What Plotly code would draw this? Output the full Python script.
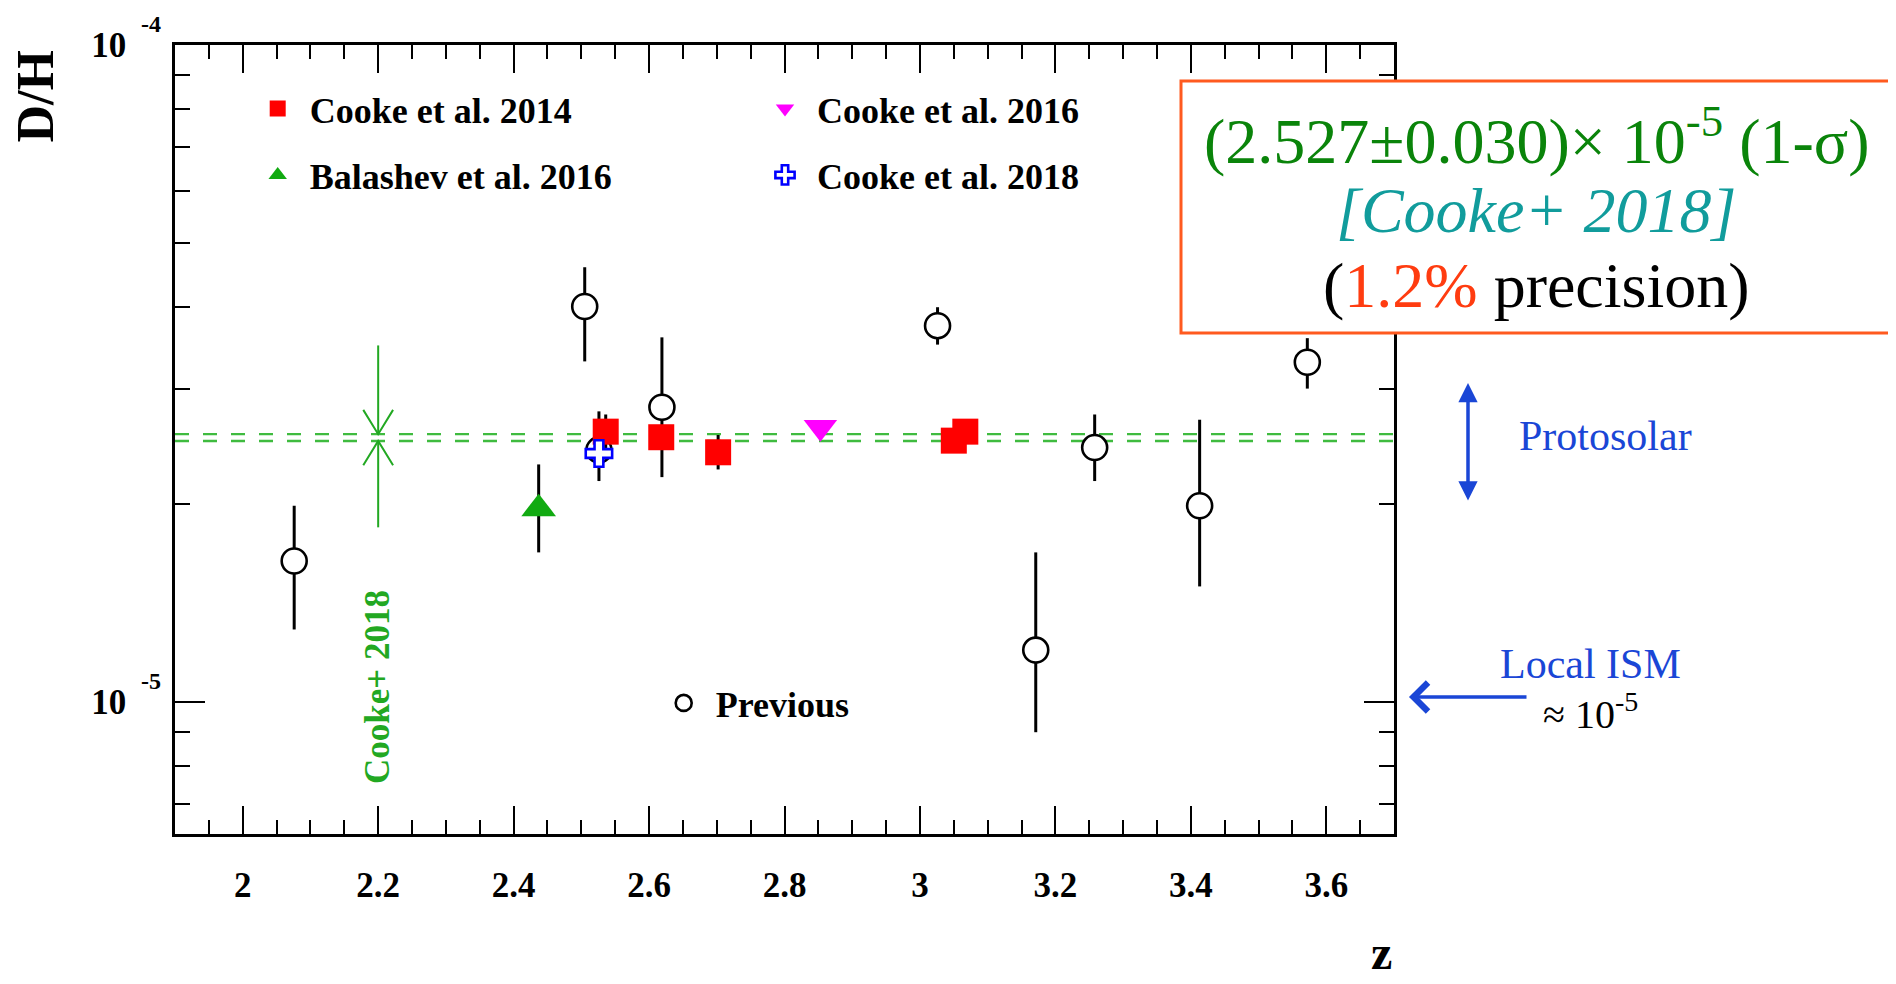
import numpy as np
import plotly.graph_objects as go

SCALE = 1e-5  # D/H values below are in units of 1e-5

# ---- data -------------------------------------------------------------
prev_z = [2.076, 2.505, 2.526, 2.619, 3.026, 3.171, 3.258, 3.413, 3.572]
prev_dh = [1.64, 4.00, 2.42, 2.81, 3.74, 1.20, 2.44, 1.99, 3.29]
prev_err_up = [0.35, 0.59, 0.35, 0.78, 0.25, 0.49, 0.30, 0.70, 0.29]
prev_err_dn = [0.35, 0.70, 0.25, 0.61, 0.24, 0.30, 0.27, 0.49, 0.29]

cooke14_z = [2.536, 2.618, 2.702, 3.050, 3.067]
cooke14_dh = [2.58, 2.53, 2.40, 2.50, 2.58]
cooke14_err_up = [0.16, 0.11, 0.15, 0.05, 0.07]
cooke14_err_dn = [0.15, 0.10, 0.14, 0.05, 0.07]

balashev16_z = [2.437]
balashev16_dh = [1.97]
balashev16_err_up = [0.33]
balashev16_err_dn = [0.28]

cooke16_z = [2.853]
cooke16_dh = [2.62]
cooke16_err = [0.06]

cooke18_z = [2.526]
cooke18_dh = [2.39]
cooke18_err = [0.08]

combined_dh = 2.527
combined_err = 0.030
combined_z = 2.2
combined_arrow_top = 3.49
combined_arrow_bottom = 1.845

x_range = [1.9, 3.7]
y_range = [6.3e-6, 1e-4]
x_ticks = [2.0, 2.2, 2.4, 2.6, 2.8, 3.0, 3.2, 3.4, 3.6]
x_ticklabels = ["2", "2.2", "2.4", "2.6", "2.8", "3", "3.2", "3.4", "3.6"]
y_ticks = [1e-5, 1e-4]
y_tick_mantissa = ["10", "10"]
y_tick_exponent = ["-5", "-4"]
y_minor = [7e-6, 8e-6, 9e-6] + [k * 1e-5 for k in range(2, 10)]

legend_names = ["Cooke et al. 2014", "Balashev et al. 2016", "Cooke et al. 2016",
                "Cooke et al. 2018", "Previous"]


def sc(v):
    return [a * SCALE for a in v]


SERIF = "Liberation Serif"
BLACK = "black"
GREEN_LINE = "#3fbb3f"
GREEN_TXT = "#22a822"
GAP = "\u2004"

fig = go.Figure()

# combined value band: two dashed lines
for v in (combined_dh + combined_err, combined_dh - combined_err):
    fig.add_trace(go.Scatter(x=x_range, y=[v * SCALE] * 2, mode="lines",
                             line=dict(color=GREEN_LINE, width=2.3, dash="14px,14px"),
                             showlegend=False, hoverinfo="skip"))

# arrows pointing to the band at z = 2.2
hi = (combined_dh + combined_err) * SCALE
lo = (combined_dh - combined_err) * SCALE
dz, ddex = 0.022, 0.037
ax_x = [combined_z, combined_z, None,
        combined_z - dz, combined_z, combined_z + dz, None,
        combined_z, combined_z, None,
        combined_z - dz, combined_z, combined_z + dz]
ax_y = [combined_arrow_top * SCALE, hi, None,
        hi * 10 ** ddex, hi, hi * 10 ** ddex, None,
        combined_arrow_bottom * SCALE, lo, None,
        lo * 10 ** -ddex, lo, lo * 10 ** -ddex]
fig.add_trace(go.Scatter(x=ax_x, y=ax_y, mode="lines",
                         line=dict(color=GREEN_TXT, width=2),
                         showlegend=False, hoverinfo="skip"))

ERR = dict(type="data", symmetric=False, color=BLACK, thickness=3, width=0)

fig.add_trace(go.Scatter(
    x=prev_z, y=sc(prev_dh), mode="markers", name=GAP + legend_names[4], legend="legend5",
    marker=dict(symbol="circle", size=25, color="white", line=dict(color=BLACK, width=2.6)),
    error_y=dict(ERR, array=sc(prev_err_up), arrayminus=sc(prev_err_dn))))

fig.add_trace(go.Scatter(
    x=cooke14_z, y=sc(cooke14_dh), mode="markers", name=GAP + legend_names[0], legend="legend",
    marker=dict(symbol="square", size=26, color="#ff0000", line=dict(width=0)),
    error_y=dict(ERR, array=sc(cooke14_err_up), arrayminus=sc(cooke14_err_dn))))

fig.add_trace(go.Scatter(
    x=balashev16_z, y=sc(balashev16_dh), mode="markers", name=GAP + legend_names[1],
    legend="legend2",
    marker=dict(symbol="triangle-up", size=30, color="#11aa11", line=dict(width=0)),
    error_y=dict(ERR, array=sc(balashev16_err_up), arrayminus=sc(balashev16_err_dn))))

fig.add_trace(go.Scatter(
    x=cooke16_z, y=sc(cooke16_dh), mode="markers", name=GAP + legend_names[2], legend="legend3",
    marker=dict(symbol="triangle-down", size=29, color="#ff00ff", line=dict(width=0)),
    error_y=dict(ERR, array=sc(cooke16_err), arrayminus=sc(cooke16_err))))

fig.add_trace(go.Scatter(
    x=cooke18_z, y=sc(cooke18_dh), mode="markers", name=GAP + legend_names[3], legend="legend4",
    marker=dict(symbol="cross", size=22, color="white", line=dict(color="#0000ff", width=2.6)),
    error_y=dict(ERR, array=sc(cooke18_err), arrayminus=sc(cooke18_err))))

# ---- layout -----------------------------------------------------------
# plot area on screen: x 175..1394, y 45..834 (page has an 8px body margin)
W, H = 1896, 984
ML, MT = 167, 37
PW, PH = 1219, 789
MR, MB = W - ML - PW, H - MT - PH
SX0, SY1 = 175, 834


def px_x(X):
    return (X - SX0) / PW


def px_y(Y):
    return (SY1 - Y) / PH


TICKFONT = dict(family=SERIF, size=35, color=BLACK, weight="bold")
LEGFONT = dict(family=SERIF, size=36, color=BLACK, weight="bold")


def leg(xpx, ypx):
    return dict(x=px_x(xpx), y=px_y(ypx), xanchor="left", yanchor="middle",
                font=LEGFONT, bgcolor="rgba(0,0,0,0)", borderwidth=0,
                itemsizing="trace")


fig.update_layout(
    width=W, height=H,
    margin=dict(l=ML, r=MR, t=MT, b=MB, autoexpand=False),
    plot_bgcolor="white", paper_bgcolor="white",
    legend=leg(257.7, 108.7),
    legend2=leg(257.7, 175),
    legend3=leg(765, 108.7),
    legend4=leg(765, 175),
    legend5=leg(663.7, 703),
)

fig.update_xaxes(
    range=x_range, showgrid=False, zeroline=False,
    showline=True, linecolor=BLACK, linewidth=2.5, mirror="ticks",
    tickmode="array", tickvals=x_ticks, ticktext=x_ticklabels,
    ticks="inside", ticklen=28, tickwidth=2.2, tickcolor=BLACK,
    tickfont=TICKFONT, ticklabelstandoff=18,
    minor=dict(ticks="inside", ticklen=14, tickwidth=2, tickcolor=BLACK,
               dtick=0.05, tick0=1.9, showgrid=False),
)

ylog = [np.log10(y_range[0]), np.log10(y_range[1])]
fig.update_yaxes(
    type="log", range=ylog, showgrid=False, zeroline=False,
    showline=True, linecolor=BLACK, linewidth=2.5, mirror="ticks",
    tickmode="array", tickvals=y_ticks, ticktext=y_tick_mantissa,
    ticks="inside", ticklen=30, tickwidth=2.2, tickcolor=BLACK,
    tickfont=TICKFONT, ticklabelstandoff=39,
    minor=dict(ticks="inside", ticklen=15, tickwidth=2, tickcolor=BLACK,
               tickvals=y_minor, showgrid=False),
)

ann = []
# y tick exponents
for v, e in zip(y_ticks, y_tick_exponent):
    yp = (np.log10(v) - ylog[0]) / (ylog[1] - ylog[0]) + 21 / PH
    ann.append(dict(xref="paper", yref="paper", x=px_x(151), y=yp, text=e, showarrow=False,
                    font=dict(family=SERIF, size=24, color=BLACK, weight="bold"),
                    xanchor="center", yanchor="middle"))
# axis titles
ann.append(dict(xref="paper", yref="paper", x=px_x(35), y=px_y(96.5), text="D/H",
                textangle=-90, showarrow=False, xanchor="center", yanchor="middle",
                font=dict(family=SERIF, size=52, color=BLACK, weight="bold")))
ann.append(dict(xref="paper", yref="paper", x=px_x(1381), y=px_y(952), text="z",
                showarrow=False, xanchor="center", yanchor="middle",
                font=dict(family=SERIF, size=48, color=BLACK, weight="bold")))
# vertical label of the combined value
ann.append(dict(xref="x", yref="y", x=combined_z, y=np.log10(1.055e-5), text="Cooke+ 2018",
                textangle=-90, showarrow=False, xanchor="center", yanchor="middle",
                font=dict(family=SERIF, size=35, color=GREEN_TXT, weight="bold")))

# result box
fig.add_shape(type="rect", xref="paper", yref="paper",
              x0=px_x(1181), x1=px_x(1893), y0=px_y(333), y1=px_y(81),
              line=dict(color="#ff5a1f", width=3), fillcolor="white", layer="above")
BOXX = px_x(1537)
ann.append(dict(xref="paper", yref="paper", x=BOXX, y=px_y(136.5),
                text="(2.527±0.030)× 10<sup>-5</sup> (1-σ)", showarrow=False,
                xanchor="center", yanchor="middle",
                font=dict(family=SERIF, size=64, color="#0a840a")))
ann.append(dict(xref="paper", yref="paper", x=BOXX, y=px_y(211),
                text="<i>[Cooke+ 2018]</i>", showarrow=False,
                xanchor="center", yanchor="middle",
                font=dict(family=SERIF, size=64, color="#119c9c")))
ann.append(dict(xref="paper", yref="paper", x=BOXX, y=px_y(285.5),
                text="(<span style='color:#ff3c10'>1.2%</span> precision)", showarrow=False,
                xanchor="center", yanchor="middle",
                font=dict(family=SERIF, size=64, color=BLACK)))

BLUE = "#1a46d6"
ann.append(dict(xref="paper", yref="paper", x=px_x(1605), y=px_y(436), text="Protosolar",
                showarrow=False, xanchor="center", yanchor="middle",
                font=dict(family=SERIF, size=42, color=BLUE)))
ann.append(dict(xref="paper", yref="paper", x=px_x(1590), y=px_y(664), text="Local ISM",
                showarrow=False, xanchor="center", yanchor="middle",
                font=dict(family=SERIF, size=42, color=BLUE)))
ann.append(dict(xref="paper", yref="paper", x=px_x(1590), y=px_y(711),
                text="≈ 10<sup>-5</sup>", showarrow=False, xanchor="center", yanchor="middle",
                font=dict(family=SERIF, size=40, color=BLACK)))
# double arrow (protosolar range)
ann.append(dict(xref="paper", yref="paper", x=px_x(1468), y=px_y(383), text="",
                showarrow=True, axref="pixel", ayref="pixel", ax=0, ay=119,
                arrowside="end+start", arrowhead=2, startarrowhead=2, arrowsize=1.1,
                startarrowsize=1.1, arrowwidth=3.5, arrowcolor=BLUE, standoff=0,
                startstandoff=0))
# left arrow (local ISM)
ann.append(dict(xref="paper", yref="paper", x=px_x(1409), y=px_y(697), text="",
                showarrow=True, axref="pixel", ayref="pixel", ax=119, ay=0,
                arrowhead=4, arrowsize=1.6, arrowwidth=3.5, arrowcolor=BLUE, standoff=0))

fig.update_layout(annotations=ann)

fig.write_html("out.html")
